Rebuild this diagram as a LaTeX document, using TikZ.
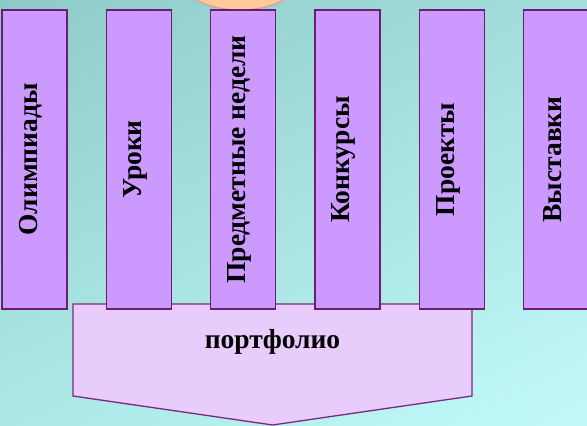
\documentclass[tikz,border=0pt]{standalone}
\usepackage{fontspec}
\setmainfont{Liberation Serif}
\usetikzlibrary{positioning, shadings}

\definecolor{bgul}{HTML}{8ECBC8}
\definecolor{bgur}{HTML}{A4DEDC}
\definecolor{bgll}{HTML}{ABE8E6}
\definecolor{bglr}{HTML}{C2FAFA}
\definecolor{colfill}{HTML}{CC99FF}
\definecolor{colline}{HTML}{6A1F6E}
\definecolor{boxfill}{HTML}{E8CCFC}
\definecolor{boxline}{HTML}{7A2A7A}
\definecolor{capfill}{HTML}{FFCC99}
\definecolor{capline}{HTML}{E8959A}

% rotated column text, moved a little to the left
\newcommand{\coltext}[1]{\hspace*{-7pt}\rotatebox{90}{#1}}

\begin{document}
\begin{tikzpicture}[
    x=1pt, y=1pt,
    column/.style={rectangle, draw=colline, fill=colfill, line width=1.3pt, minimum width=65pt, minimum height=299pt, inner sep=0pt, font=\fontsize{27.5}{30}\selectfont\bfseries},
    arrowbox/.style={draw=boxline, fill=boxfill, line width=1.3pt},
    capstyle/.style={draw=capline, fill=capfill, line width=1.2pt},
    node distance=38pt
  ]

    % Background
    \useasboundingbox (0,0) rectangle (587,426);
    \clip (0,0) rectangle (587,426);
    \shade[upper left=bgul, upper right=bgur, lower left=bgll, lower right=bglr] (0,0) rectangle (587,426);

    % Cap at the top
    \draw[capstyle] (240,456) ellipse [x radius=66, y radius=40];

    % Bottom: portfolio
    \draw[arrowbox] (73,122) -- (472,122) -- (472,30) -- (272.5,1) -- (73,30) -- cycle;
    \node[font=\fontsize{27.5}{30}\selectfont\bfseries] (portf) at (272.5,84) {портфолио};

    % Row of columns
    \node[column] (olymp) at (34.5,266.5) {\coltext{Олимпиады}};
    \node[column, right=of olymp] (lessons) {\coltext{Уроки}};
    \node[column, right=of lessons] (weeks) {\coltext{Предметные недели}};
    \node[column, right=of weeks] (contests) {\coltext{Конкурсы}};
    \node[column, right=of contests] (projects) {\coltext{Проекты}};
    \node[column, right=of projects] (exhib) {\coltext{Выставки}};
  \end{tikzpicture}
\end{document}
